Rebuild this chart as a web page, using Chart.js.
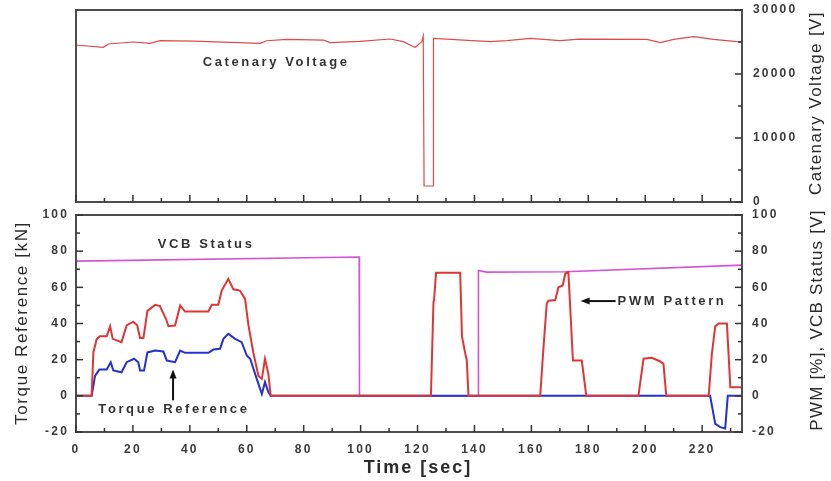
<!DOCTYPE html>
<html>
<head>
<meta charset="utf-8">
<title>Catenary voltage / PWM pattern</title>
<script src="https://cdn.jsdelivr.net/npm/chart.js@4.4.1/dist/chart.umd.min.js"></script>
<style>
  html, body { margin: 0; padding: 0; background: #fff; }
  .stage { position: relative; width: 831px; height: 481px; overflow: hidden; }
  .stage canvas { position: absolute; left: 0; }
  #voltChart { top: 0; }
  #driveChart { top: 200px; }
</style>
</head>
<body>
<div class="stage">
  <canvas id="voltChart" width="831" height="205"></canvas>
  <canvas id="driveChart" width="831" height="281"></canvas>
</div>
<script>
// --- data ---
// catenary voltage [V] vs time [sec]
const voltTime  = [0, 9.6, 11.4, 20.1, 26, 29.5, 41.2, 64.7, 67, 74, 87, 89.3, 99.8, 110.4, 115, 118.6, 119.2, 121.5, 122, 122.3, 125.5, 125.6, 145.5, 151.4, 159.6, 170, 177, 200.6, 205.3, 210, 217, 224, 232.2, 234];
const voltValue = [24530, 24170, 24690, 25000, 24800, 25200, 25150, 24800, 25200, 25420, 25300, 24900, 25100, 25470, 25050, 24270, 24170, 25050, 25940, 2500, 2500, 25580, 25050, 25200, 25580, 25200, 25450, 25400, 24900, 25400, 25830, 25400, 25050, 25000];

// PWM pattern [%]
const pwmTime = [0, 5.5, 6.1, 7.3, 8.4, 10.8, 12, 12.9, 16, 17.8, 20.1, 21.5, 22.5, 23.7, 25.1, 27.8, 29.5, 31.6, 32.5, 34.8,
  36.6, 38.3, 46.5, 47.7, 50, 51.2, 53.5, 55.3, 57.6, 59.4, 60.6, 62.3, 64.1, 65.3, 66.4, 67.6, 68.4,
  124.7, 125.6, 125.8, 126.5, 135, 135.6, 136.7, 137.3, 137.9,
  163.1, 164.3, 165.4, 166, 168.4, 169.5, 171, 171.9, 173, 174.6, 177.7, 179.3,
  197.6, 199.4, 202.3, 205.3, 206.4, 207.4,
  222.3, 223.4, 224.6, 225.8, 228.7, 229.9, 234];
const pwmValue = [0, 0, 24, 31.5, 33, 33, 38.5, 31.5, 29.7, 38.9, 41, 39, 32, 32, 47, 50.3, 49.6, 42.6, 38.5, 38.9,
  50, 46.6, 46.6, 50.3, 50.3, 58.2, 64.7, 58.9, 58.2, 53.6, 39, 24, 11, 9.4, 20.5, 12, 0,
  0, 51.8, 53, 68, 68, 33, 24, 19.7, 0,
  0, 27.8, 50.9, 52.6, 53, 60, 61, 67.5, 68.4, 19.5, 19.5, 0,
  0, 20.5, 21, 19, 17.7, 0,
  0, 23, 38.5, 40, 40, 4.8, 4.8];

// torque reference [kN]
const torqueTime  = [0, 5.5, 6.7, 8.2, 10.8, 12.2, 13.1, 16, 17.8, 20.4, 21.9, 22.5, 23.9, 25.1, 27.8, 30.7, 31.9, 34.8, 36.6, 38.3,
  46.5, 48.3, 50.6, 51.8, 53.5, 55.9, 58.2, 60, 61.2, 63.5, 65.3, 66.4, 67.6, 68.4, 222.8, 224.6, 226.4, 228.1, 229, 234];
const torqueValue = [0, 0, 11, 14.6, 14.6, 18.6, 14, 13, 18.6, 20.5, 18.6, 14, 14, 24, 25, 24.5, 19.5, 18.6, 25, 23.8,
  23.8, 25.6, 26, 31.5, 34.3, 31.5, 29.7, 22.3, 20.5, 9.4, 1, 7.6, 2, 0, 0, -15.5, -17.3, -18, 0, 0];

// VCB status [V]
const vcbTime  = [0, 99.5, 99.6, 141.3, 141.4, 144.3, 172, 234];
const vcbValue = [74.5, 76.8, 0, 0, 69.3, 68.4, 68.6, 72.3];

// tick labels
const timeTicks  = [0, 20, 40, 60, 80, 100, 120, 140, 160, 180, 200, 220];
const voltTicks  = [0, 10000, 20000, 30000];
const forceTicks = [-20, 0, 20, 40, 60, 80, 100];

const FONT = '"Liberation Sans", Arial, Helvetica, sans-serif';
Chart.defaults.font.family = FONT;
Chart.defaults.color = '#3a3a3a';

const pts = (t, v) => t.map((x, i) => ({ x, y: v[i] }));
const fixedTicks = list => scale => { scale.ticks = list.map(v => ({ value: v })); };
// fixed box sizes, no extra room for the end labels
const fixWidth = w => scale => { scale.width = w; scale.paddingTop = 0; scale.paddingBottom = 0; };
const fixHeight = h => scale => { scale.height = h; scale.paddingLeft = 0; scale.paddingRight = 0; };
const tickFont = { size: 12, weight: 'bold' };
const noGrid = { display: false, drawTicks: false };

// frame, inward ticks, notes and rotated titles
const panelDecor = {
  id: 'panelDecor',
  beforeDraw(chart) { chart.ctx.letterSpacing = '2.2px'; },
  afterDraw(chart, args, opts) {
    const { ctx, chartArea: a, scales } = chart;
    const xs = scales.x;
    const mark = (x1, y1, x2, y2) => { ctx.beginPath(); ctx.moveTo(x1, y1); ctx.lineTo(x2, y2); ctx.stroke(); };
    ctx.save();
    ctx.strokeStyle = '#4d4d4d';
    ctx.lineWidth = 2;
    ctx.strokeRect(a.left, a.top, a.right - a.left, a.bottom - a.top);

    ctx.strokeStyle = '#333';
    ctx.lineWidth = 1.5;
    timeTicks.forEach(v => {
      const px = xs.getPixelForValue(v);
      mark(px, a.bottom, px, a.bottom - 7);
      if (v + 10 < xs.max) {
        const mx = xs.getPixelForValue(v + 10);
        mark(mx, a.bottom, mx, a.bottom - 4);
      }
    });
    (opts.sideAxes || []).forEach(id => {
      const s = scales[id];
      const edge = s.position === 'left' ? a.left : a.right;
      const dir = s.position === 'left' ? 1 : -1;
      const list = s.ticks.map(t => t.value);
      list.forEach((v, i) => {
        const py = s.getPixelForValue(v);
        mark(edge, py, edge + dir * 7, py);
        if (i < list.length - 1) {
          const my = s.getPixelForValue((v + list[i + 1]) / 2);
          mark(edge, my, edge + dir * 4, my);
        }
      });
    });

    ctx.fillStyle = '#333';
    ctx.textBaseline = 'middle';
    (opts.notes || []).forEach(n => {
      const s = scales[n.axis];
      ctx.font = 'bold 13px ' + FONT;
      ctx.letterSpacing = '2.6px';
      ctx.textAlign = n.align || 'center';
      ctx.fillText(n.text, xs.getPixelForValue(n.x), s.getPixelForValue(n.y));
    });

    ctx.strokeStyle = '#111';
    ctx.fillStyle = '#111';
    ctx.lineWidth = 2;
    (opts.arrows || []).forEach(r => {
      const s = scales[r.axis];
      const x1 = xs.getPixelForValue(r.from[0]), y1 = s.getPixelForValue(r.from[1]);
      const x2 = xs.getPixelForValue(r.to[0]), y2 = s.getPixelForValue(r.to[1]);
      const ang = Math.atan2(y2 - y1, x2 - x1);
      const c = Math.cos(ang), sn = Math.sin(ang);
      mark(x1, y1, x2 - 6 * c, y2 - 6 * sn);
      ctx.beginPath();
      ctx.moveTo(x2, y2);
      ctx.lineTo(x2 - 9 * c + 3.5 * sn, y2 - 9 * sn - 3.5 * c);
      ctx.lineTo(x2 - 9 * c - 3.5 * sn, y2 - 9 * sn + 3.5 * c);
      ctx.closePath();
      ctx.fill();
    });

    ctx.fillStyle = '#2a2a2a';
    (opts.titles || []).forEach(t => {
      ctx.save();
      ctx.translate(t.x, t.y);
      ctx.rotate(t.rot || 0);
      ctx.font = t.font;
      ctx.letterSpacing = t.spacing;
      ctx.textAlign = 'center';
      ctx.fillText(t.text, 0, 0);
      ctx.restore();
    });
    ctx.restore();
  }
};

const sideTitle = '17px ' + FONT;

// top panel: catenary voltage
new Chart(document.getElementById('voltChart'), {
  type: 'line',
  data: {
    datasets: [{
      data: pts(voltTime, voltValue),
      borderColor: '#e04a4a', borderWidth: 1.2, pointRadius: 0, tension: 0
    }]
  },
  options: {
    responsive: false, animation: false, events: [],
    layout: { padding: { left: 76, top: 10, right: 0, bottom: 0 } },
    plugins: {
      legend: { display: false }, tooltip: { enabled: false },
      panelDecor: {
        sideAxes: ['y'],
        notes: [{ text: 'Catenary Voltage', x: 70.3, y: 21875, axis: 'y' }],
        titles: [{ text: 'Catenary Voltage [V]', x: 816, y: 103, rot: -Math.PI / 2, font: sideTitle, spacing: '1.4px' }]
      }
    },
    scales: {
      x: {
        type: 'linear', min: 0, max: 234,
        afterFit: fixHeight(3), afterBuildTicks: fixedTicks(timeTicks),
        grid: noGrid, border: { display: false },
        ticks: { display: false }
      },
      y: {
        position: 'right', min: 0, max: 30000,
        afterFit: fixWidth(89), afterBuildTicks: fixedTicks(voltTicks),
        grid: noGrid, border: { display: false },
        ticks: { padding: 11, font: tickFont, callback: v => String(v) }
      }
    }
  },
  plugins: [panelDecor]
});

// bottom panel: PWM, torque reference, VCB status
new Chart(document.getElementById('driveChart'), {
  type: 'line',
  data: {
    datasets: [
      { label: 'PWM Pattern', data: pts(pwmTime, pwmValue), yAxisID: 'y2',
        borderColor: '#e03535', borderWidth: 2, pointRadius: 0, tension: 0 },
      { label: 'Torque Reference', data: pts(torqueTime, torqueValue), yAxisID: 'y',
        borderColor: '#2430d0', borderWidth: 2, pointRadius: 0, tension: 0 },
      { label: 'VCB Status', data: pts(vcbTime, vcbValue), yAxisID: 'y2',
        borderColor: '#d452d8', borderWidth: 1.6, pointRadius: 0, tension: 0 }
    ]
  },
  options: {
    responsive: false, animation: false, events: [],
    layout: { padding: { left: 0, top: 15, right: 0, bottom: 0 } },
    plugins: {
      legend: { display: false }, tooltip: { enabled: false },
      panelDecor: {
        sideAxes: ['y', 'y2'],
        notes: [
          { text: 'VCB Status', x: 45.7, y: 84, axis: 'y' },
          { text: 'Torque Reference', x: 34.4, y: -7.7, axis: 'y' },
          { text: 'PWM Pattern', x: 190.3, y: 52.4, axis: 'y', align: 'left' }
        ],
        arrows: [
          { from: [34.1, -2.5], to: [34.1, 14.5], axis: 'y' },
          { from: [189.6, 52.4], to: [177.3, 52.4], axis: 'y' }
        ],
        titles: [
          { text: 'Torque Reference [kN]', x: 22, y: 123, rot: -Math.PI / 2, font: sideTitle, spacing: '1.6px' },
          { text: 'PWM [%], VCB Status [V]', x: 817, y: 120, rot: -Math.PI / 2, font: sideTitle, spacing: '1.2px' },
          { text: 'Time [sec]', x: 418, y: 268, font: 'bold 18px ' + FONT, spacing: '2px' }
        ]
      }
    },
    scales: {
      x: {
        type: 'linear', min: 0, max: 234,
        afterFit: fixHeight(49), afterBuildTicks: fixedTicks(timeTicks),
        grid: noGrid, border: { display: false },
        ticks: { padding: 10, font: tickFont, maxRotation: 0, autoSkip: false }
      },
      y: {
        position: 'left', min: -20, max: 100,
        afterFit: fixWidth(76), afterBuildTicks: fixedTicks(forceTicks),
        grid: noGrid, border: { display: false },
        ticks: { padding: 7, font: tickFont }
      },
      y2: {
        position: 'right', min: -20, max: 100,
        afterFit: fixWidth(89), afterBuildTicks: fixedTicks(forceTicks),
        grid: noGrid, border: { display: false },
        ticks: { padding: 10, font: tickFont }
      }
    }
  },
  plugins: [panelDecor]
});
</script>
</body>
</html>
